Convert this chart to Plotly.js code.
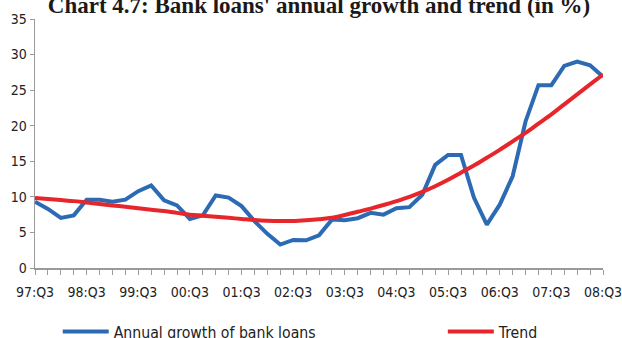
<!DOCTYPE html>
<html>
<head>
<meta charset="utf-8">
<script src="https://cdn.plot.ly/plotly-3.0.1.min.js"></script>
<style>
html,body{margin:0;padding:0;background:#fff;}
#chart{width:622px;height:338px;}
</style>
</head>
<body>
<div id="chart"></div>
<script>
const quarters = [
  "97:Q3","97:Q4","98:Q1","98:Q2","98:Q3","98:Q4","99:Q1","99:Q2","99:Q3","99:Q4",
  "00:Q1","00:Q2","00:Q3","00:Q4","01:Q1","01:Q2","01:Q3","01:Q4","02:Q1","02:Q2",
  "02:Q3","02:Q4","03:Q1","03:Q2","03:Q3","03:Q4","04:Q1","04:Q2","04:Q3","04:Q4",
  "05:Q1","05:Q2","05:Q3","05:Q4","06:Q1","06:Q2","06:Q3","06:Q4","07:Q1","07:Q2",
  "07:Q3","07:Q4","08:Q1","08:Q2","08:Q3"
];
const loanGrowth = [
  9.3, 8.3, 7.05, 7.4, 9.6, 9.6, 9.3, 9.6, 10.8, 11.6,
  9.5, 8.8, 6.9, 7.4, 10.2, 9.9, 8.7, 6.6, 4.8, 3.3,
  3.95, 3.9, 4.6, 6.8, 6.7, 7.0, 7.75, 7.5, 8.4, 8.55,
  10.3, 14.5, 15.9, 15.9, 9.9, 6.1, 8.9, 12.9, 20.6, 25.7,
  25.7, 28.4, 29.0, 28.5, 26.9
];
const trend = [
  9.85, 9.7, 9.55, 9.4, 9.2, 9.0, 8.8, 8.6, 8.4, 8.2,
  8.0, 7.75, 7.5, 7.35, 7.2, 7.05, 6.9, 6.75, 6.65, 6.6,
  6.6, 6.7, 6.85, 7.05, 7.45, 7.9, 8.35, 8.85, 9.4, 10.0,
  10.7, 11.5, 12.4, 13.4, 14.4, 15.5, 16.6, 17.8, 19.0, 20.3,
  21.6, 23.0, 24.4, 25.8, 27.2
];
const yTicks = [0, 5, 10, 15, 20, 25, 30, 35];
const xTickLabels = quarters.map(q => q.endsWith("Q3") ? q : "");

const narrow = "'DejaVu Sans Condensed', 'Liberation Sans Narrow', sans-serif";

const data = [
  {
    x: quarters, y: loanGrowth, type: "scatter", mode: "lines",
    name: "Annual growth of bank loans",
    line: {color: "#2C6BB4", width: 4},
    legend: "legend"
  },
  {
    x: quarters, y: trend, type: "scatter", mode: "lines",
    name: "Trend",
    line: {color: "#E6262B", width: 4, shape: "spline"},
    legend: "legend2"
  }
];

const legendCommon = {
  orientation: "h",
  xanchor: "left",
  yref: "container", y: 0.018, yanchor: "middle",
  font: {family: narrow, size: 15.7, color: "#222"},
  itemwidth: 46,
  bgcolor: "rgba(0,0,0,0)",
  borderwidth: 0
};

const layout = {
  width: 622, height: 338,
  margin: {l: 35, r: 19, t: 19, b: 70, autoexpand: false},
  paper_bgcolor: "#fff", plot_bgcolor: "#fff",
  showlegend: true,
  title: {
    text: "<b>Chart 4.7: Bank loans' annual growth and trend (in %)</b>",
    font: {family: "'Liberation Serif', 'Times New Roman', serif", size: 23, color: "#1a1a1a"},
    x: 0.5, xanchor: "center", xref: "paper",
    y: 0.984, yanchor: "middle", yref: "container"
  },
  xaxis: {
    type: "category",
    range: [0, quarters.length - 1],
    tickmode: "array", tickvals: quarters, ticktext: xTickLabels,
    ticks: "outside", ticklen: 5, tickwidth: 1, tickcolor: "#9a9a9a",
    showline: true, linecolor: "#9a9a9a", linewidth: 1.5,
    showgrid: false, zeroline: false,
    tickangle: 0,
    ticklabelstandoff: 6,
    tickfont: {family: narrow, size: 14, color: "#222"},
    fixedrange: true
  },
  yaxis: {
    range: [0, 35],
    tickmode: "array", tickvals: yTicks,
    ticks: "outside", ticklen: 4, tickwidth: 1, tickcolor: "#9a9a9a",
    showline: true, linecolor: "#9a9a9a", linewidth: 1.5,
    showgrid: false, zeroline: false,
    tickfont: {family: narrow, size: 14, color: "#222"},
    fixedrange: true
  },
  legend: Object.assign({}, legendCommon, {x: 0.04}),
  legend2: Object.assign({}, legendCommon, {x: 0.718})
};

Plotly.newPlot("chart", data, layout, {displayModeBar: false, staticPlot: true});
</script>
</body>
</html>
